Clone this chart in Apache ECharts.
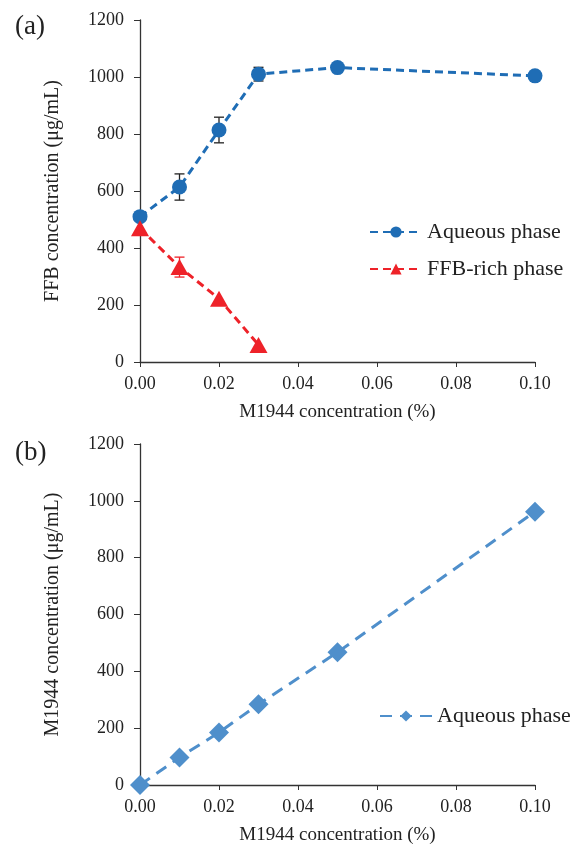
<!DOCTYPE html>
<html>
<head>
<meta charset="utf-8">
<script src="https://cdn.jsdelivr.net/npm/echarts@6/dist/echarts.min.js"></script>
<style>
html,body{margin:0;padding:0;background:#fff;}
#chart{width:585px;height:846px;}
</style>
</head>
<body>
<div id="chart"></div>
<script>
// 数据
var xValues = [0, 0.01, 0.02, 0.03, 0.05, 0.10];
var aqueousFFB = [510, 614, 814, 1010, 1033, 1004];
var aqueousFFBErr = [0, 46, 45, 24, 0, 0];
var richX = [0, 0.01, 0.02, 0.03];
var richFFB = [469, 333, 222, 60];
var richFFBErr = [0, 35, 0, 0];
var aqueousM1944 = [0, 97, 185, 284, 467, 962];

function pairs(xs, ys){
	return xs.map(function(x, i){ return [x, ys[i]]; });
}
function errData(xs, ys, es){
	return xs.map(function(x, i){ return [x, ys[i], es[i]]; });
}
//误差线
function errRender(color){
	return function(params, api){
		var e = api.value(2);
		if (!e) return null;
		var hi = api.coord([api.value(0), api.value(1) + e]);
		var lo = api.coord([api.value(0), api.value(1) - e]);
		var st = {stroke: color, lineWidth: 1.3};
		return {
			type: 'group',
			children: [
				{type: 'line', shape: {x1: hi[0], y1: hi[1], x2: lo[0], y2: lo[1]}, style: st},
				{type: 'line', shape: {x1: hi[0]-5, y1: hi[1], x2: hi[0]+5, y2: hi[1]}, style: st},
				{type: 'line', shape: {x1: lo[0]-5, y1: lo[1], x2: lo[0]+5, y2: lo[1]}, style: st}
			]
		};
	};
}

var font = 'Liberation Serif';
function xAxis(idx){
	return {
		type: 'value', gridIndex: idx, min: 0, max: 0.1, interval: 0.02,
		name: 'M1944 concentration (%)', nameLocation: 'middle', nameGap: 41,
		nameTextStyle: {fontFamily: font, fontSize: 19, color: '#222'},
		axisLine: {lineStyle: {color: '#333', width: 1.3}},
		axisTick: {show: true, length: 5, lineStyle: {color: '#333'}},
		axisLabel: {fontFamily: font, fontSize: 18, color: '#222', margin: 13,
			formatter: function(v){ return v.toFixed(2); }},
		splitLine: {show: false}
	};
}
function yAxis(idx, name){
	return {
		type: 'value', gridIndex: idx, min: 0, max: 1200, interval: 200,
		name: name, nameLocation: 'middle', nameGap: 77, nameRotate: 90,
		nameTextStyle: {fontFamily: font, fontSize: 20, color: '#222'},
		axisLine: {show: true, lineStyle: {color: '#333', width: 1.3}},
		axisTick: {show: true, length: 6, lineStyle: {color: '#333'}},
		axisLabel: {fontFamily: font, fontSize: 18, color: '#222', margin: 16,
			formatter: function(v){ return String(v); }},
		splitLine: {show: false}
	};
}

var chart = echarts.init(document.getElementById('chart'));
var option = {
	backgroundColor: '#fff',
	animation: false,
	title: [
		{text: '(a)', left: 10, top: 8, textStyle: {fontFamily: font, fontSize: 27, fontWeight: 'normal', color: '#222'}},
		{text: '(b)', left: 10, top: 434, textStyle: {fontFamily: font, fontSize: 27, fontWeight: 'normal', color: '#222'}}
	],
	grid: [
		{left: 140, top: 20, width: 395, height: 342},
		{left: 140, top: 444, width: 395, height: 342}
	],
	xAxis: [xAxis(0), xAxis(1)],
	yAxis: [yAxis(0, 'FFB concentration (μg/mL)'), yAxis(1, 'M1944 concentration (μg/mL)')],
	legend: [
		{
			data: ['Aqueous phase', 'FFB-rich phase'], orient: 'vertical',
			left: 364, top: 216, itemWidth: 52, itemHeight: 14, itemGap: 15,
			textStyle: {fontFamily: font, fontSize: 22, color: '#222'}
		},
		{
			data: ['Aqueous phase '], left: 374, top: 700, itemWidth: 52, itemHeight: 14,
			textStyle: {fontFamily: font, fontSize: 22, color: '#222'}
		}
	],
	series: [
		{
			name: 'Aqueous phase', type: 'line', xAxisIndex: 0, yAxisIndex: 0,
			data: pairs(xValues, aqueousFFB), symbol: 'circle', symbolSize: 15,
			itemStyle: {color: '#1f6db5'},
			lineStyle: {color: '#1f6db5', width: 3, type: [8, 5]}, z: 3
		},
		{
			type: 'custom', xAxisIndex: 0, yAxisIndex: 0,
			data: errData(xValues, aqueousFFB, aqueousFFBErr),
			renderItem: errRender('#222'), z: 2, silent: true
		},
		{
			name: 'FFB-rich phase', type: 'line', xAxisIndex: 0, yAxisIndex: 0,
			data: pairs(richX, richFFB), symbol: 'triangle', symbolSize: [18, 16],
			itemStyle: {color: '#ee2229'},
			lineStyle: {color: '#ee2229', width: 3, type: [8, 5]}, z: 4
		},
		{
			type: 'custom', xAxisIndex: 0, yAxisIndex: 0,
			data: errData(richX, richFFB, richFFBErr),
			renderItem: errRender('#ee2229'), z: 2, silent: true
		},
		{
			name: 'Aqueous phase ', type: 'line', xAxisIndex: 1, yAxisIndex: 1,
			data: pairs(xValues, aqueousM1944), symbol: 'diamond', symbolSize: 20,
			itemStyle: {color: '#4f8fcb'},
			lineStyle: {color: '#4f8fcb', width: 3, type: [12, 8]}, z: 3
		}
	]
};
chart.setOption(option);
</script>
</body>
</html>
